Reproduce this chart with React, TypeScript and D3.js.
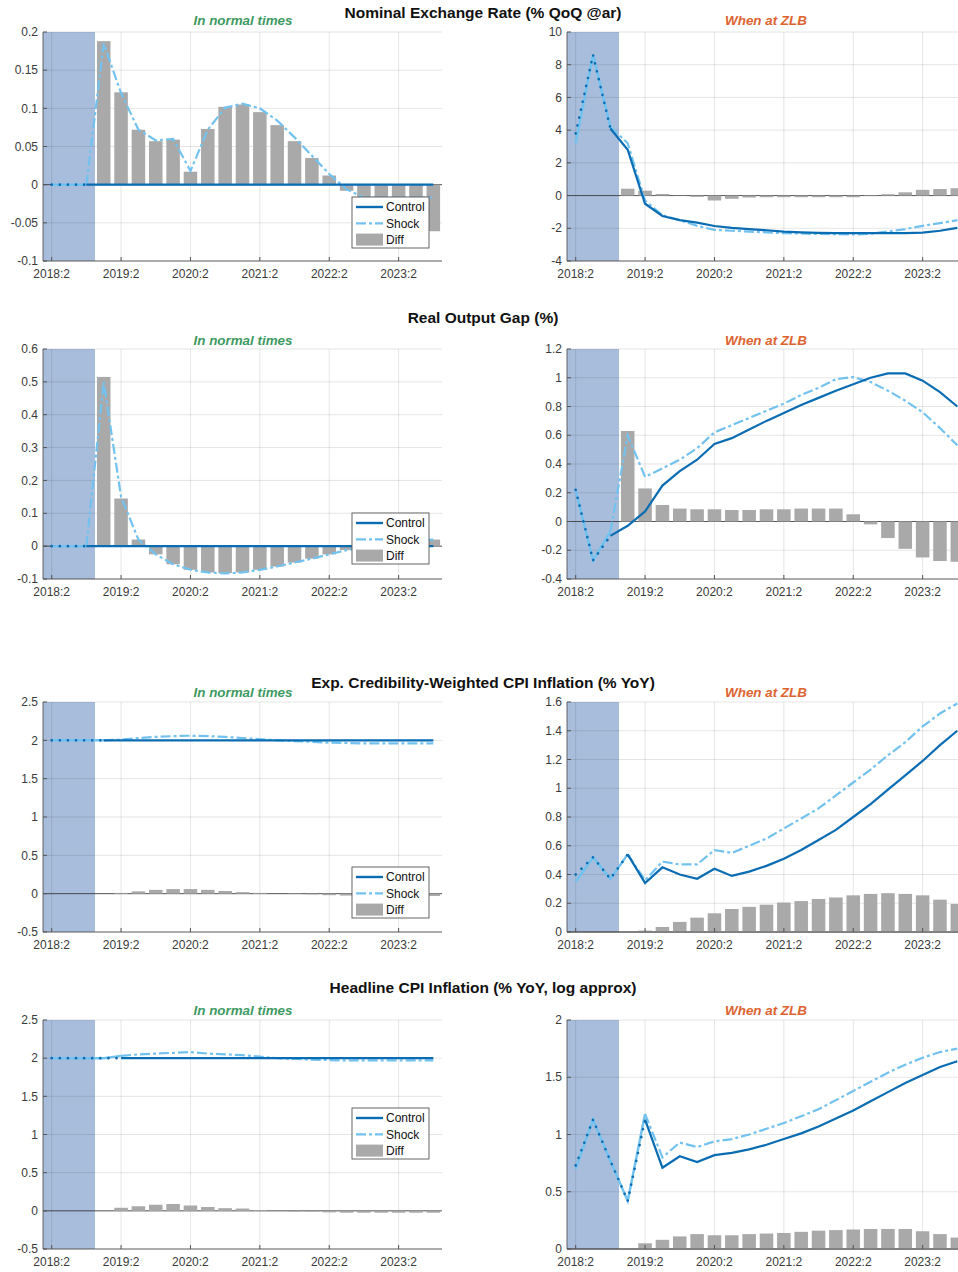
import React, { useRef, useEffect } from 'react';
import * as d3 from 'd3';

// quarters shown on the x axis (index 0 = 2018:2)
const quarters = [
  '2018:2', '2018:3', '2018:4', '2019:1', '2019:2', '2019:3', '2019:4', '2020:1',
  '2020:2', '2020:3', '2020:4', '2021:1', '2021:2', '2021:3', '2021:4', '2022:1',
  '2022:2', '2022:3', '2022:4', '2023:1', '2023:2', '2023:3', '2023:4',
];
const xTickLabels = ['2018:2', '2019:2', '2020:2', '2021:2', '2022:2', '2023:2'];

const rowTitles = [
  'Nominal Exchange Rate (% QoQ @ar)',
  'Real Output Gap (%)',
  'Exp. Credibility-Weighted CPI Inflation (% YoY)',
  'Headline CPI Inflation (% YoY, log approx)',
];
const subTitles = ['In normal times', 'When at ZLB'];
const legendLabels = ['Control', 'Shock', 'Diff'];

// Nominal exchange rate
const fxNormalControl = [0, 0, 0, 0, 0, 0, 0, 0, 0, 0, 0, 0, 0, 0, 0, 0, 0, 0, 0, 0, 0, 0, 0];
const fxNormalShock = [0, 0, 0, 0.185, 0.12, 0.072, 0.058, 0.06, 0.018, 0.072, 0.101, 0.106, 0.1, 0.084, 0.062, 0.038, 0.014, -0.006, -0.017, -0.017, -0.017, -0.017, -0.017];
const fxNormalDiff = [null, null, null, 0.188, 0.121, 0.072, 0.057, 0.059, 0.017, 0.073, 0.102, 0.105, 0.095, 0.078, 0.057, 0.035, 0.012, -0.008, -0.017, -0.017, -0.017, -0.017, -0.061];
const fxZlbControl = [3.8, 8.6, 4.1, 2.8, -0.5, -1.25, -1.5, -1.65, -1.86, -1.98, -2.05, -2.12, -2.2, -2.25, -2.28, -2.3, -2.3, -2.3, -2.3, -2.3, -2.27, -2.15, -1.97];
const fxZlbShock = [3.2, 8.6, 4.2, 3.2, -0.3, -1.2, -1.5, -1.85, -2.1, -2.15, -2.2, -2.25, -2.3, -2.32, -2.35, -2.36, -2.38, -2.33, -2.2, -2.05, -1.85, -1.68, -1.5];
const fxZlbDiff = [null, null, null, 0.42, 0.3, 0.1, 0.02, -0.08, -0.3, -0.2, -0.12, -0.1, -0.1, -0.1, -0.1, -0.1, -0.1, -0.03, 0.08, 0.2, 0.35, 0.4, 0.45];

// Real output gap
const gapNormalControl = [0, 0, 0, 0, 0, 0, 0, 0, 0, 0, 0, 0, 0, 0, 0, 0, 0, 0, 0, 0, 0, 0, 0];
const gapNormalShock = [0, 0, 0, 0.5, 0.15, 0.02, -0.025, -0.055, -0.072, -0.08, -0.083, -0.08, -0.072, -0.062, -0.05, -0.038, -0.025, -0.012, -0.004, 0.002, 0.01, 0.018, 0.02];
const gapNormalDiff = [null, null, null, 0.515, 0.145, 0.02, -0.025, -0.055, -0.072, -0.08, -0.082, -0.08, -0.072, -0.062, -0.05, -0.038, -0.025, -0.012, -0.005, 0.0, 0.01, 0.018, 0.02];
const gapZlbControl = [0.22, -0.27, -0.1, -0.03, 0.07, 0.25, 0.35, 0.43, 0.54, 0.58, 0.64, 0.7, 0.755, 0.81, 0.86, 0.91, 0.955, 1.0, 1.03, 1.03, 0.98, 0.9, 0.8];
const gapZlbShock = [0.22, -0.27, -0.07, 0.6, 0.31, 0.37, 0.43, 0.51, 0.62, 0.67, 0.72, 0.77, 0.82, 0.88, 0.93, 0.99, 1.005, 0.97, 0.91, 0.84, 0.76, 0.65, 0.53];
const gapZlbDiff = [null, null, null, 0.63, 0.23, 0.115, 0.09, 0.085, 0.085, 0.08, 0.08, 0.085, 0.085, 0.09, 0.09, 0.09, 0.05, -0.02, -0.115, -0.19, -0.25, -0.275, -0.28];

// Exp. credibility-weighted CPI inflation
const credNormalControl = [2, 2, 2, 2, 2, 2, 2, 2, 2, 2, 2, 2, 2, 2, 2, 2, 2, 2, 2, 2, 2, 2, 2];
const credNormalShock = [2, 2, 2, 2, 2.01, 2.03, 2.045, 2.055, 2.06, 2.055, 2.045, 2.03, 2.015, 2.0, 1.99, 1.98, 1.97, 1.965, 1.96, 1.96, 1.96, 1.96, 1.96];
const credNormalDiff = [null, null, null, 0, 0.01, 0.03, 0.05, 0.06, 0.06, 0.05, 0.035, 0.02, 0.01, 0, -0.005, -0.01, -0.02, -0.025, -0.03, -0.03, -0.03, -0.03, -0.03];
const credZlbControl = [0.4, 0.52, 0.37, 0.54, 0.34, 0.45, 0.4, 0.37, 0.44, 0.39, 0.42, 0.46, 0.51, 0.57, 0.64, 0.71, 0.8, 0.89, 0.99, 1.09, 1.19, 1.3, 1.4];
const credZlbShock = [0.35, 0.52, 0.37, 0.54, 0.36, 0.49, 0.47, 0.47, 0.57, 0.55, 0.6, 0.65, 0.72, 0.79, 0.86, 0.95, 1.04, 1.13, 1.23, 1.32, 1.43, 1.52, 1.59];
const credZlbDiff = [null, null, null, 0, 0.01, 0.035, 0.07, 0.1, 0.13, 0.16, 0.175, 0.19, 0.205, 0.215, 0.23, 0.24, 0.255, 0.265, 0.27, 0.265, 0.255, 0.225, 0.195];

// Headline CPI inflation
const headNormalControl = [2, 2, 2, 2, 2, 2, 2, 2, 2, 2, 2, 2, 2, 2, 2, 2, 2, 2, 2, 2, 2, 2, 2];
const headNormalShock = [2, 2, 2, 2, 2.03, 2.05, 2.06, 2.07, 2.08, 2.06, 2.05, 2.04, 2.02, 2.0, 1.99, 1.98, 1.975, 1.97, 1.97, 1.97, 1.97, 1.97, 1.97];
const headNormalDiff = [null, null, null, 0, 0.04, 0.06, 0.08, 0.09, 0.07, 0.05, 0.035, 0.03, 0.01, 0, -0.01, -0.01, -0.02, -0.025, -0.025, -0.025, -0.025, -0.025, -0.025];
const headZlbControl = [0.73, 1.13, 0.77, 0.42, 1.13, 0.71, 0.81, 0.76, 0.82, 0.84, 0.87, 0.91, 0.96, 1.01, 1.07, 1.14, 1.21, 1.29, 1.37, 1.45, 1.52, 1.59, 1.64];
const headZlbShock = [0.7, 1.13, 0.77, 0.42, 1.18, 0.8, 0.93, 0.89, 0.94, 0.96, 1.0, 1.05, 1.1, 1.16, 1.22, 1.3, 1.38, 1.46, 1.54, 1.61, 1.67, 1.72, 1.75];
const headZlbDiff = [null, null, null, 0, 0.05, 0.08, 0.11, 0.13, 0.12, 0.12, 0.13, 0.135, 0.14, 0.15, 0.16, 0.165, 0.17, 0.175, 0.175, 0.175, 0.155, 0.13, 0.1];

// y ticks per panel
const fxNormalTicks = [-0.1, -0.05, 0, 0.05, 0.1, 0.15, 0.2];
const fxZlbTicks = [-4, -2, 0, 2, 4, 6, 8, 10];
const gapNormalTicks = [-0.1, 0, 0.1, 0.2, 0.3, 0.4, 0.5, 0.6];
const gapZlbTicks = [-0.4, -0.2, 0, 0.2, 0.4, 0.6, 0.8, 1, 1.2];
const inflNormalTicks = [-0.5, 0, 0.5, 1, 1.5, 2, 2.5];
const credZlbTicks = [0, 0.2, 0.4, 0.6, 0.8, 1, 1.2, 1.4, 1.6];
const headZlbTicks = [0, 0.5, 1, 1.5, 2];

// last history quarter (dotted part) per row
const histEnd = [2, 2, 3, 4];
const shadeEnd = 2.5;

interface Panel {
  control: number[];
  shock: number[];
  diff: (number | null)[];
  ticks: number[];
  legendTop?: number;
}

const panels: Panel[] = [
  { control: fxNormalControl, shock: fxNormalShock, diff: fxNormalDiff, ticks: fxNormalTicks, legendTop: 197 },
  { control: fxZlbControl, shock: fxZlbShock, diff: fxZlbDiff, ticks: fxZlbTicks },
  { control: gapNormalControl, shock: gapNormalShock, diff: gapNormalDiff, ticks: gapNormalTicks, legendTop: 513 },
  { control: gapZlbControl, shock: gapZlbShock, diff: gapZlbDiff, ticks: gapZlbTicks },
  { control: credNormalControl, shock: credNormalShock, diff: credNormalDiff, ticks: inflNormalTicks, legendTop: 867 },
  { control: credZlbControl, shock: credZlbShock, diff: credZlbDiff, ticks: credZlbTicks },
  { control: headNormalControl, shock: headNormalShock, diff: headNormalDiff, ticks: inflNormalTicks, legendTop: 1108 },
  { control: headZlbControl, shock: headZlbShock, diff: headZlbDiff, ticks: headZlbTicks },
];

const rowTop = [32, 349, 702, 1020];
const rowBottom = [261, 579, 932, 1249];
const titleY = [18, 323, 688, 993];
const subY = [25, 345, 697, 1015];
const colX: [number, number][] = [[43, 442], [567, 966]];

const FONT = '"Liberation Sans", Arial, Helvetica, sans-serif';
const controlColor = '#0a6db3';
const shockColor = '#72c2ef';
const barColor = '#a9a9a9';
const shadeColor = '#a8bddc';

const fmt = (v: number) => String(+v.toFixed(2));

export default function App() {
  const svgRef = useRef<SVGSVGElement>(null);

  useEffect(() => {
    if (!svgRef.current) return;
    const svg = d3.select(svgRef.current);
    svg.selectAll('*').remove();

    panels.forEach((p, i) => {
      const row = Math.floor(i / 2);
      const col = i % 2;
      const [x0, x1] = colX[col];
      const y0 = rowTop[row];
      const y1 = rowBottom[row];
      const ticks = p.ticks;

      const x = d3.scaleLinear().domain([-0.5, quarters.length - 0.5]).range([x0, x1]);
      const y = d3.scaleLinear().domain([ticks[0], ticks[ticks.length - 1]]).range([y1, y0]);
      const g = svg.append('g');

      // history shading
      g.append('rect')
        .attr('x', x(-0.5))
        .attr('y', y0)
        .attr('width', x(shadeEnd) - x(-0.5))
        .attr('height', y1 - y0)
        .attr('fill', shadeColor);

      // grid
      g.selectAll('line.gy')
        .data(ticks)
        .join('line')
        .attr('class', 'gy')
        .attr('x1', x0).attr('x2', x1)
        .attr('y1', d => y(d)).attr('y2', d => y(d))
        .attr('stroke', 'rgba(0,0,0,0.1)')
        .attr('stroke-width', 1);
      g.selectAll('line.gx')
        .data(xTickLabels)
        .join('line')
        .attr('class', 'gx')
        .attr('x1', d => x(quarters.indexOf(d))).attr('x2', d => x(quarters.indexOf(d)))
        .attr('y1', y0).attr('y2', y1)
        .attr('stroke', 'rgba(0,0,0,0.1)')
        .attr('stroke-width', 1);

      // zero line
      g.append('line')
        .attr('x1', x0).attr('x2', x1)
        .attr('y1', y(0)).attr('y2', y(0))
        .attr('stroke', '#333')
        .attr('stroke-width', 0.8);

      // diff bars
      const bw = (x(1) - x(0)) * 0.78;
      const bars = p.diff
        .map((d, k) => ({ d, k }))
        .filter(o => o.d !== null) as { d: number; k: number }[];
      g.selectAll('rect.bar')
        .data(bars)
        .join('rect')
        .attr('class', 'bar')
        .attr('x', o => x(o.k) - bw / 2)
        .attr('y', o => y(Math.max(0, o.d)))
        .attr('width', bw)
        .attr('height', o => Math.abs(y(o.d) - y(0)))
        .attr('fill', barColor);

      const line = d3.line<[number, number]>()
        .x(d => x(d[0]))
        .y(d => y(d[1]));
      const pts = (arr: number[]) => arr.map((v, k) => [k, v] as [number, number]);
      const h = histEnd[row];

      // shock
      g.append('path')
        .datum(pts(p.shock).slice(0, h + 1))
        .attr('fill', 'none')
        .attr('stroke', shockColor)
        .attr('stroke-width', 2.5)
        .attr('d', line);
      g.append('path')
        .datum(pts(p.shock).slice(h))
        .attr('fill', 'none')
        .attr('stroke', shockColor)
        .attr('stroke-width', 2.2)
        .attr('stroke-dasharray', '10,3,3,3')
        .attr('d', line);

      // control
      g.append('path')
        .datum(pts(p.control).slice(0, h + 1))
        .attr('fill', 'none')
        .attr('stroke', controlColor)
        .attr('stroke-width', 2.6)
        .attr('stroke-linecap', 'round')
        .attr('stroke-dasharray', '0.1,8')
        .attr('d', line);
      g.append('path')
        .datum(pts(p.control).slice(h))
        .attr('fill', 'none')
        .attr('stroke', controlColor)
        .attr('stroke-width', 2.2)
        .attr('d', line);

      // axes
      g.append('line')
        .attr('x1', x0).attr('x2', x0).attr('y1', y0).attr('y2', y1)
        .attr('stroke', '#555').attr('stroke-width', 0.9);
      g.append('line')
        .attr('x1', x0).attr('x2', x1).attr('y1', y1).attr('y2', y1)
        .attr('stroke', '#555').attr('stroke-width', 0.9);

      g.selectAll('line.ty')
        .data(ticks)
        .join('line')
        .attr('class', 'ty')
        .attr('x1', x0).attr('x2', x0 + 4)
        .attr('y1', d => y(d)).attr('y2', d => y(d))
        .attr('stroke', '#555');
      g.selectAll('text.ly')
        .data(ticks)
        .join('text')
        .attr('class', 'ly')
        .attr('x', x0 - 5)
        .attr('y', d => y(d))
        .attr('dy', '0.35em')
        .attr('text-anchor', 'end')
        .attr('font-family', FONT)
        .attr('font-size', 12)
        .attr('fill', '#3a3a3a')
        .text(d => fmt(d));

      g.selectAll('line.tx')
        .data(xTickLabels)
        .join('line')
        .attr('class', 'tx')
        .attr('x1', d => x(quarters.indexOf(d))).attr('x2', d => x(quarters.indexOf(d)))
        .attr('y1', y1 - 4).attr('y2', y1)
        .attr('stroke', '#555');
      g.selectAll('text.lx')
        .data(xTickLabels)
        .join('text')
        .attr('class', 'lx')
        .attr('x', d => x(quarters.indexOf(d)))
        .attr('y', y1 + 17)
        .attr('text-anchor', 'middle')
        .attr('font-family', FONT)
        .attr('font-size', 12)
        .attr('fill', '#3a3a3a')
        .text(d => d);

      // subtitle
      g.append('text')
        .attr('x', col === 0 ? 243 : 766)
        .attr('y', subY[row])
        .attr('text-anchor', 'middle')
        .attr('font-family', FONT)
        .attr('font-size', 13.4)
        .attr('font-weight', 'bold')
        .attr('font-style', 'italic')
        .attr('fill', col === 0 ? '#3d9a62' : '#dc6330')
        .text(subTitles[col]);

      // legend
      if (p.legendTop !== undefined) {
        const lx = 352;
        const ly = p.legendTop;
        const lg = g.append('g');
        lg.append('rect')
          .attr('x', lx).attr('y', ly)
          .attr('width', 77).attr('height', 51)
          .attr('fill', '#fff')
          .attr('stroke', '#555')
          .attr('stroke-width', 0.9);
        legendLabels.forEach((lab, k) => {
          const cy = ly + 10 + k * 16.3;
          if (k === 0) {
            lg.append('line').attr('x1', lx + 4).attr('x2', lx + 31).attr('y1', cy).attr('y2', cy)
              .attr('stroke', controlColor).attr('stroke-width', 2.4);
          } else if (k === 1) {
            lg.append('line').attr('x1', lx + 4).attr('x2', lx + 31).attr('y1', cy).attr('y2', cy)
              .attr('stroke', shockColor).attr('stroke-width', 2.2).attr('stroke-dasharray', '10,3,3,3');
          } else {
            lg.append('rect').attr('x', lx + 4).attr('y', cy - 6).attr('width', 27).attr('height', 12)
              .attr('fill', barColor);
          }
          lg.append('text')
            .attr('x', lx + 34)
            .attr('y', cy)
            .attr('dy', '0.35em')
            .attr('font-family', FONT)
            .attr('font-size', 12)
            .attr('fill', '#111')
            .text(lab);
        });
      }
    });

    // row titles
    svg.selectAll('text.title')
      .data(rowTitles)
      .join('text')
      .attr('class', 'title')
      .attr('x', 483)
      .attr('y', (_, k) => titleY[k])
      .attr('text-anchor', 'middle')
      .attr('font-family', FONT)
      .attr('font-size', 15.5)
      .attr('font-weight', 'bold')
      .attr('fill', '#111')
      .text(d => d);
  }, []);

  return (
    <div style={{ position: 'absolute', left: 0, top: 0 }}>
      <svg ref={svgRef} width={958} height={1272} style={{ display: 'block', background: '#fff' }} />
    </div>
  );
}
